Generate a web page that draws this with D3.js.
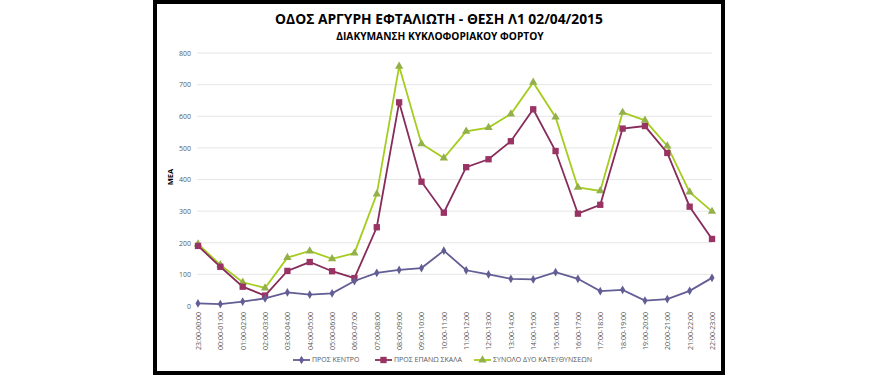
<!DOCTYPE html>
<html>
<head>
<meta charset="utf-8">
<script src="https://cdn.jsdelivr.net/npm/d3@7"></script>
<style>
  body { margin: 0; background: #fff; }
  svg text { font-family: 'Open Sans', sans-serif; }
</style>
</head>
<body>
<div id="chart"></div>
<script>
// categories (hour intervals)
const hours = ['23:00-00:00', '00:00-01:00', '01:00-02:00', '02:00-03:00', '03:00-04:00', '04:00-05:00',
  '05:00-06:00', '06:00-07:00', '07:00-08:00', '08:00-09:00', '09:00-10:00', '10:00-11:00',
  '11:00-12:00', '12:00-13:00', '13:00-14:00', '14:00-15:00', '15:00-16:00', '16:00-17:00',
  '17:00-18:00', '18:00-19:00', '19:00-20:00', '20:00-21:00', '21:00-22:00', '22:00-23:00'];

// series values (ΜΕΑ)
const prosKentro = [8, 6, 14, 24, 43, 36, 40, 79, 105, 114, 120, 175, 113, 100, 86, 84, 107, 86, 47, 51, 17, 22, 48, 89];
const prosEpanoSkala = [190, 124, 61, 33, 111, 139, 110, 88, 249, 644, 393, 295, 439, 464, 521, 622, 490, 292, 320, 561, 569, 484, 314, 212];
const synolo = [196, 130, 75, 57, 153, 174, 149, 167, 354, 758, 513, 468, 552, 564, 607, 707, 597, 375, 364, 612, 587, 506, 360, 299];

const yTicks = [0, 100, 200, 300, 400, 500, 600, 700, 800];

const width = 880;
const height = 375;

const svg = d3.select('#chart')
  .append('svg')
  .attr('width', width)
  .attr('height', height);

// frame
svg.append('rect')
  .attr('x', 155).attr('y', 2)
  .attr('width', 568).attr('height', 371)
  .attr('fill', '#fff')
  .attr('stroke', '#000')
  .attr('stroke-width', 4);

const x = d3.scalePoint().domain(hours).range([198, 712]);
const y = d3.scaleLinear().domain([0, 800]).range([306, 53]);

// gridlines
svg.append('g')
  .selectAll('line')
  .data(yTicks.slice(1))
  .join('line')
  .attr('x1', 197).attr('x2', 712)
  .attr('y1', d => y(d)).attr('y2', d => y(d))
  .attr('stroke', '#e6e6e6')
  .attr('stroke-width', 1);

// y axis
const yAxis = svg.append('g')
  .attr('transform', 'translate(195,0)')
  .call(d3.axisLeft(y).tickValues(yTicks).tickSize(0).tickPadding(4));
yAxis.select('.domain').remove();
yAxis.selectAll('text')
  .style('font-size', '7px')
  .style('fill', '#595959');

// x axis
const xAxis = svg.append('g')
  .attr('transform', 'translate(0,309)')
  .call(d3.axisBottom(x).tickSize(0));
xAxis.select('.domain').remove();
xAxis.selectAll('text')
  .attr('transform', 'rotate(-90)')
  .attr('text-anchor', 'end')
  .attr('x', -3)
  .attr('y', 0)
  .attr('dy', '0.35em')
  .style('font-size', '7px')
  .style('fill', '#595959');

// titles
svg.append('text')
  .attr('x', 439).attr('y', 24)
  .attr('text-anchor', 'middle')
  .style('font-size', '13.8px')
  .style('font-weight', 'bold')
  .text('ΟΔΟΣ ΑΡΓΥΡΗ ΕΦΤΑΛΙΩΤΗ - ΘΕΣΗ Λ1 02/04/2015');

svg.append('text')
  .attr('x', 440).attr('y', 40)
  .attr('text-anchor', 'middle')
  .style('font-size', '10.2px')
  .style('font-weight', 'bold')
  .text('ΔΙΑΚΥΜΑΝΣΗ ΚΥΚΛΟΦΟΡΙΑΚΟΥ ΦΟΡΤΟΥ');

svg.append('text')
  .attr('transform', 'translate(173,177) rotate(-90)')
  .attr('text-anchor', 'middle')
  .style('font-size', '7.5px')
  .style('font-weight', 'bold')
  .text('ΜΕΑ');

const series = [
  { name: 'ΠΡΟΣ ΚΕΝΤΡΟ', values: prosKentro, line: '#625d94', mark: '#625d94', symbol: d3.symbolDiamond, size: 22 },
  { name: 'ΠΡΟΣ ΕΠΑΝΩ ΣΚΑΛΑ', values: prosEpanoSkala, line: '#872b5b', mark: '#983364', symbol: d3.symbolSquare, size: 40 },
  { name: 'ΣΥΝΟΛΟ ΔΥΟ ΚΑΤΕΥΘΥΝΣΕΩΝ', values: synolo, line: '#a5cc1e', mark: '#93b04a', symbol: d3.symbolTriangle, size: 30 }
];

const line = d3.line()
  .x((d, i) => x(hours[i]))
  .y(d => y(d));

// draw total first, then the others on top
[2, 1, 0].forEach(k => {
  const s = series[k];
  const g = svg.append('g');
  g.append('path')
    .attr('d', line(s.values))
    .attr('fill', 'none')
    .attr('stroke', s.line)
    .attr('stroke-width', 1.8);
  g.selectAll('path.m')
    .data(s.values)
    .join('path')
    .attr('class', 'm')
    .attr('transform', (d, i) => `translate(${x(hours[i])},${y(d)})`)
    .attr('d', d3.symbol().type(s.symbol).size(s.size))
    .attr('fill', s.mark);
});

// legend
const legendX = [293, 375, 474];
const legend = svg.append('g')
  .selectAll('g')
  .data(series)
  .join('g')
  .attr('transform', (d, i) => `translate(${legendX[i]},360)`);

legend.append('line')
  .attr('x1', 0).attr('x2', 17)
  .attr('stroke', d => d.line)
  .attr('stroke-width', 1.8);
legend.append('path')
  .attr('transform', 'translate(8.5,0)')
  .attr('d', d => d3.symbol().type(d.symbol).size(d.size)())
  .attr('fill', d => d.mark);
legend.append('text')
  .attr('x', 19)
  .attr('dy', '0.35em')
  .style('font-size', '7px')
  .style('fill', '#595959')
  .text(d => d.name);
</script>
</body>
</html>
